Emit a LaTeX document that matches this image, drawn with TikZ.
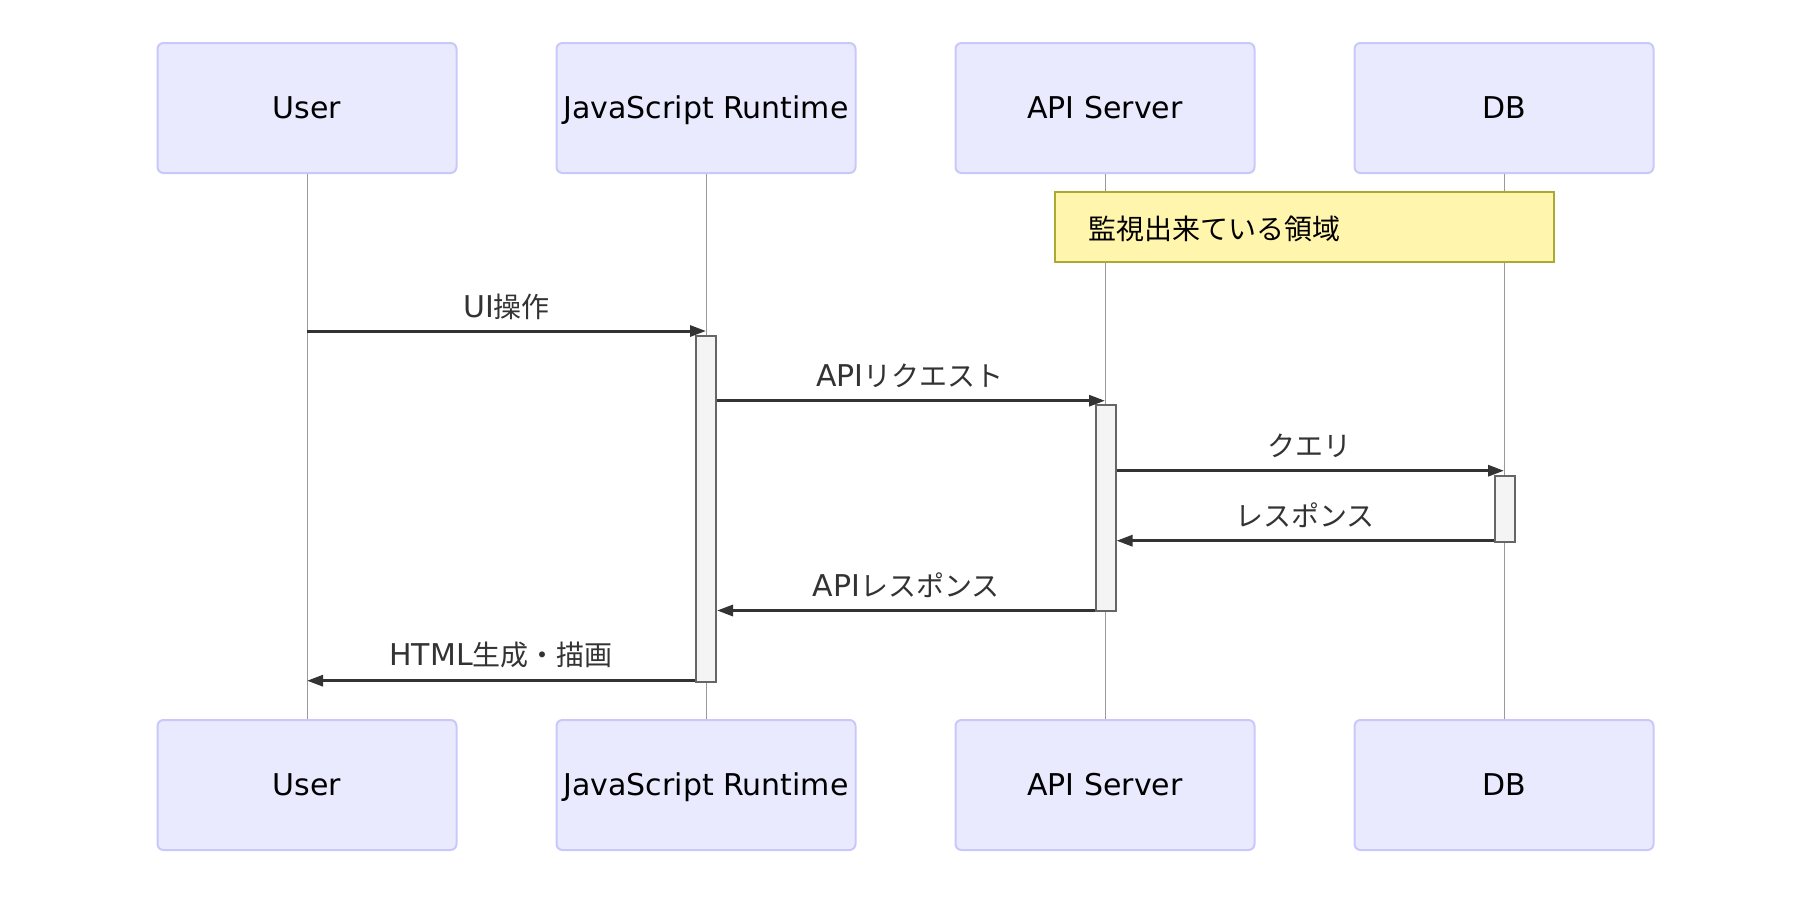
\documentclass[tikz,border=0pt]{standalone}
\usepackage{fontspec}
\setmainfont{DejaVu Sans}
\newfontfamily\cjkfam{Noto Sans CJK JP}
\newcommand\cjk{\cjkfam\fontsize{28}{32}\selectfont}
\usetikzlibrary{arrows.meta}
\definecolor{actfill}{HTML}{EAEAFF}
\definecolor{actdraw}{HTML}{C8C8FA}
\definecolor{lifec}{HTML}{999999}
\definecolor{msgc}{HTML}{333333}
\definecolor{actvfill}{HTML}{F4F4F4}
\definecolor{actvdraw}{HTML}{666666}
\definecolor{notefill}{HTML}{FFF5AD}
\definecolor{notedraw}{HTML}{AAAA33}
\tikzset{
  actorbox/.style={draw=actdraw, fill=actfill, line width=2pt, rounded corners=6pt,
    minimum width=299pt, minimum height=130pt, inner sep=0pt,
    font=\fontsize{30}{34}\selectfont, text=black, text height=21.8pt, text depth=0pt},
  lifeline/.style={draw=lifec, line width=1pt},
  activation/.style={draw=actvdraw, fill=actvfill, line width=2pt,
    minimum width=20pt, inner sep=0pt, anchor=north},
  notebox/.style={draw=notedraw, fill=notefill, line width=2pt,
    minimum width=499pt, minimum height=70pt, inner sep=0pt},
  msg/.style={draw=msgc, line width=3pt, -{Triangle[length=16pt,width=11pt]}},
  msglabel/.style={font=\fontsize{30}{34}\selectfont, text=msgc, inner sep=0pt,
    text height=21.8pt, text depth=0pt},
}
\begin{document}
\begin{tikzpicture}[x=1pt,y=-1pt]
\useasboundingbox (0,0) rectangle (1818,906);
% actors top
\node[actorbox] (ut) at (307,108) {User};
\node[actorbox] (jt) at (706,108) {JavaScript Runtime};
\node[actorbox] (at) at (1105,108) {API Server};
\node[actorbox] (dt) at (1504,108) {DB};
% actors bottom
\node[actorbox] (ub) at (307,785) {User};
\node[actorbox] (jb) at (706,785) {JavaScript Runtime};
\node[actorbox] (ab) at (1105,785) {API Server};
\node[actorbox] (db) at (1504,785) {DB};
% lifelines
\draw[lifeline] (ut.south) -- (ub.north);
\draw[lifeline] (jt.south) -- (jb.north);
\draw[lifeline] (at.south) -- (ab.north);
\draw[lifeline] (dt.south) -- (db.north);
% note
\node[notebox] (note) at (1304.5,227) {};
\node[msglabel, anchor=west, text=black] (notetext) at (1088,229) {\cjk 監視出来ている領域};
% activations
\node[activation, minimum height=346pt] (ja) at (706,334.7) {};
\node[activation, minimum height=206pt] (aa) at (1105.5,404.3) {};
\node[activation, minimum height=66pt] (da) at (1504.5,474.7) {};
% messages
\draw[msg] (ut.south |- 0,331) -- (jt.south |- 0,331);
\node[msglabel] (l1) at (506.5,306.5) {UI{\cjk 操作}};
\draw[msg] (ja.east |- 0,400.7) -- (at.south |- 0,400.7);
\node[msglabel] (l2) at (910,376) {API{\cjk リクエスト}};
\draw[msg] (aa.east |- 0,470.7) -- (dt.south |- 0,470.7);
\node[msglabel] (l3) at (1309,446) {\cjk クエリ};
\draw[msg] (da.west |- 0,540.7) -- (aa.east |- 0,540.7);
\node[msglabel] (l4) at (1305,516) {\cjk レスポンス};
\draw[msg] (aa.west |- 0,610.5) -- (ja.east |- 0,610.5);
\node[msglabel] (l5) at (906,586) {API{\cjk レスポンス}};
\draw[msg] (ja.west |- 0,680.7) -- (ut.south |- 0,680.7);
\node[msglabel] (l6) at (501,655) {HTML{\cjk 生成・描画}};
\end{tikzpicture}
\end{document}
